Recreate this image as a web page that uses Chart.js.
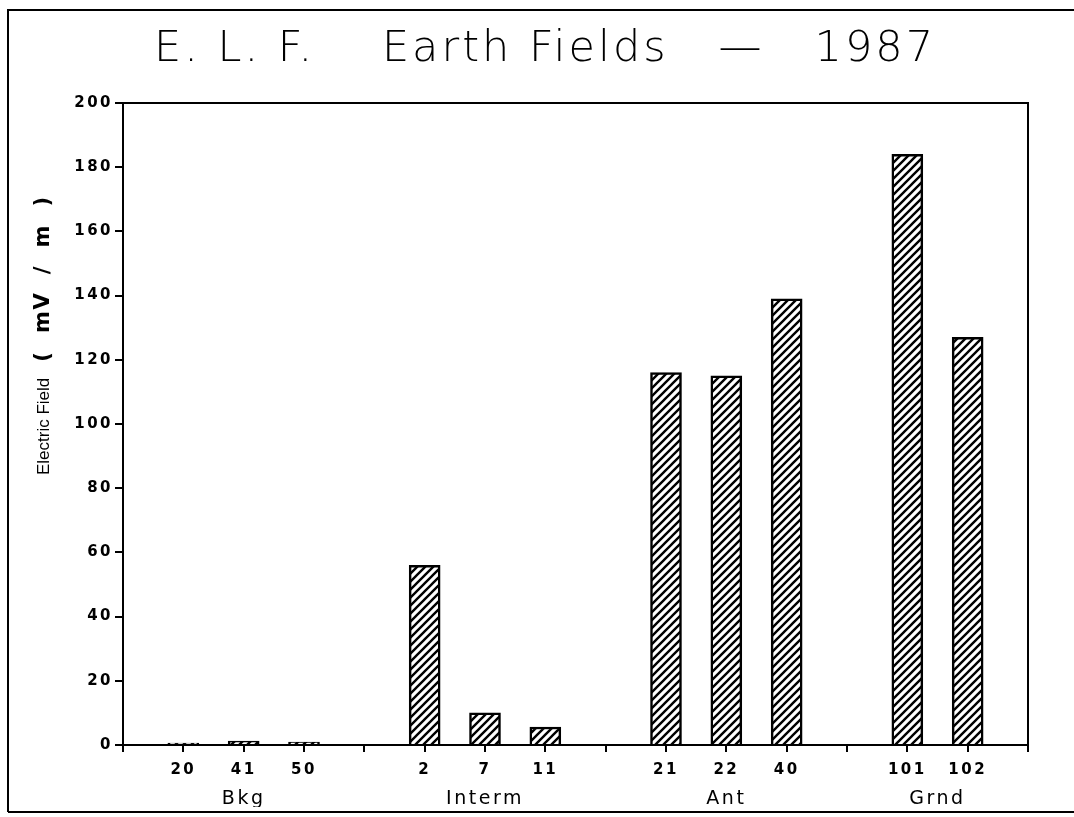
<!DOCTYPE html>
<html>
<head>
<meta charset="utf-8">
<script src="https://cdn.jsdelivr.net/npm/chart.js@4"></script>
<style>
  html, body { margin: 0; padding: 0; background: #fff; }
  #wrap { width: 1074px; height: 817px; }
</style>
</head>
<body>
<div id="wrap"><canvas id="myChart" width="1074" height="817"></canvas></div>
<script>
	// groups of sites and measured fields (mV/m)
	var groups = ['Bkg', 'Interm', 'Ant', 'Grnd'];
	var sites = [['20', '41', '50'], ['2', '7', '11'], ['21', '22', '40'], ['101', '102']];
	var fields = [[0.6, 1.2, 0.9], [56, 10, 5.6], [116, 115, 139], [184, 127]];
	var yTicks = [0, 20, 40, 60, 80, 100, 120, 140, 160, 180, 200];
	var titleText = 'E. L. F.    Earth Fields   \u2014   1987';

	// build category list with an empty slot before each group and at the end
	var labels = [];
	var values = [];
	var groupCenters = [];
	for (let g = 0; g < groups.length; g++) {
		labels.push('');
		values.push(null);
		let start = labels.length;
		for (let i = 0; i < sites[g].length; i++) {
			labels.push(sites[g][i]);
			values.push(fields[g][i]);
		}
		groupCenters.push((start + labels.length - 1) / 2);
	}
	labels.push('');
	values.push(null);

	// diagonal hatch fill
	function hatch() {
		var c = document.createElement('canvas');
		c.width = 8; c.height = 8;
		var p = c.getContext('2d');
		p.fillStyle = '#fff';
		p.fillRect(0, 0, 8, 8);
		p.strokeStyle = '#000';
		p.lineWidth = 2.4;
		p.beginPath();
		p.moveTo(-2, 10); p.lineTo(10, -2);
		p.moveTo(-2, 2); p.lineTo(2, -2);
		p.moveTo(6, 10); p.lineTo(10, 6);
		p.stroke();
		return p.createPattern(c, 'repeat');
	}

	// white page, outer frame, box around the plot, title and y title
	var framePlugin = {
		id: 'frame',
		beforeDraw: function(chart) {
			var ctx = chart.ctx;
			ctx.save();
			ctx.fillStyle = '#fff';
			ctx.fillRect(0, 0, chart.width, chart.height);
			ctx.strokeStyle = '#000';
			ctx.lineWidth = 2;
			ctx.beginPath();
			ctx.moveTo(8, 812); ctx.lineTo(8, 10); ctx.lineTo(chart.width, 10);
			ctx.moveTo(8, 812); ctx.lineTo(chart.width, 812);
			ctx.stroke();
			ctx.restore();
			// wider lettering for the tick labels
			ctx.letterSpacing = '2.5px';
		},
		afterDraw: function(chart) {
			var a = chart.chartArea;
			var ctx = chart.ctx;
			ctx.letterSpacing = '0px';
			ctx.save();
			ctx.strokeStyle = '#000';
			ctx.lineWidth = 2;
			ctx.strokeRect(a.left, a.top, a.right - a.left, a.bottom - a.top);

			// main title
			ctx.fillStyle = '#000';
			ctx.textAlign = 'center';
			ctx.textBaseline = 'middle';
			ctx.font = '200 43px "DejaVu Sans"';
			ctx.letterSpacing = '3px';
			ctx.fillText(titleText, 545, 50);

			// rotated axis title, two parts like the original
			ctx.translate(44, 475);
			ctx.rotate(-Math.PI / 2);
			ctx.textAlign = 'left';
			ctx.letterSpacing = '0px';
			ctx.font = '17px "Liberation Sans Narrow", "Liberation Sans"';
			ctx.fillText('Electric Field', 0, 0);
			var w = ctx.measureText('Electric Field').width;
			ctx.font = 'bold 21px "DejaVu Sans"';
			ctx.letterSpacing = '1.5px';
			ctx.fillText('(  mV  /  m  )', w + 16, 0);
			ctx.restore();
		}
	};

	var ctx = document.getElementById('myChart').getContext('2d');

	var myChart = new Chart(ctx, {
		type: 'bar',
		data: {
			labels: labels,
			datasets: [{
				data: values,
				backgroundColor: hatch(),
				borderColor: '#000',
				borderWidth: 2.5,
				barThickness: 31
			}]
		},
		options: {
			responsive: false,
			animation: false,
			layout: { padding: { left: 10, right: 46, top: 103, bottom: 10 } },
			plugins: {
				legend: { display: false },
				tooltip: { enabled: false },
				title: { display: false }
			},
			scales: {
				x: {
					offset: false,
					grid: { offset: false, drawOnChartArea: false, color: '#000', lineWidth: 2, tickLength: 7 },
					border: { color: '#000', width: 2 },
					ticks: {
						color: '#000',
						autoSkip: false,
						maxRotation: 0,
						padding: 9,
						font: { family: 'DejaVu Sans', size: 15, weight: 'bold' }
					},
					afterFit: function(scale) { scale.height = 35; }
				},
				x2: {
					type: 'linear',
					position: 'bottom',
					offset: false,
					min: 0,
					max: labels.length - 1,
					grid: { display: false },
					border: { display: false },
					afterBuildTicks: function(scale) {
						scale.ticks = groupCenters.map(v => ({ value: v }));
					},
					ticks: {
						color: '#000',
						padding: 0,
						maxRotation: 0,
						font: { family: 'DejaVu Sans', size: 19 },
						callback: function(v, i) { return groups[i]; }
					},
					afterFit: function(scale) { scale.height = 27; }
				},
				y: {
					min: 0,
					max: 200,
					afterBuildTicks: function(scale) {
						scale.ticks = yTicks.map(v => ({ value: v }));
					},
					grid: { drawOnChartArea: false, color: '#000', lineWidth: 2, tickLength: 8 },
					border: { color: '#000', width: 2 },
					ticks: {
						color: '#000',
						padding: 2,
						font: { family: 'DejaVu Sans', size: 15, weight: 'bold' }
					},
					afterFit: function(scale) { scale.width = 113; }
				}
			}
		},
		plugins: [framePlugin]
	});
</script>
</body>
</html>
